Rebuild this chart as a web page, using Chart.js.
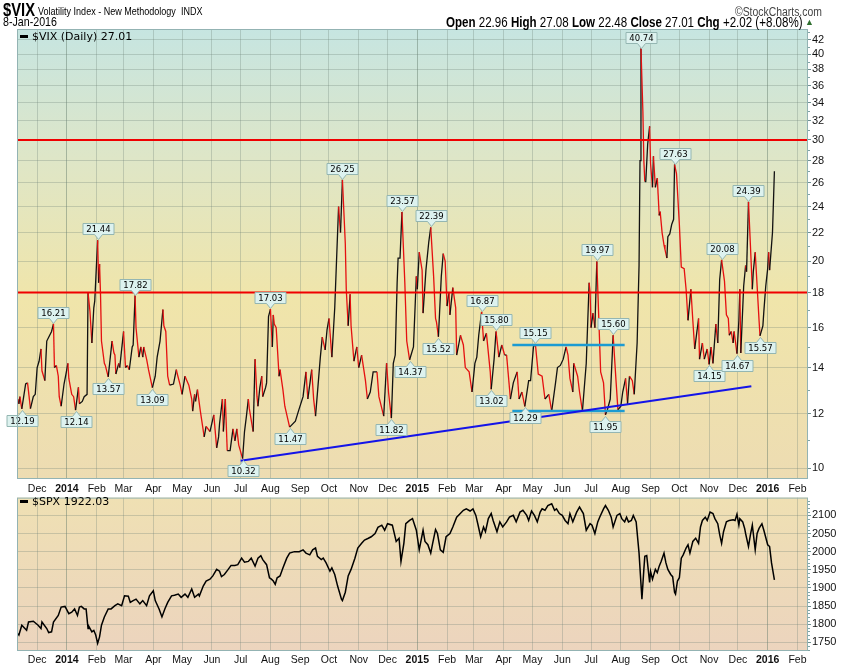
<!DOCTYPE html>
<html>
<head>
<meta charset="utf-8">
<script src="https://cdn.jsdelivr.net/npm/chart.js@4.4.0/dist/chart.umd.min.js"></script>
<style>
  body { margin: 0; background: #fff; width: 850px; height: 668px; position: relative; overflow: hidden; font-family: 'Liberation Sans', Arial, sans-serif; }
  .t { position: absolute; white-space: nowrap; color: #000; z-index: 2; }
  /* no narrow face installed, so squeeze the normal one */
  .n { transform: scaleX(0.82); transform-origin: 0 0; }
  .leg { position: absolute; z-index: 2; font: 11px 'DejaVu Sans', sans-serif; color: #000; white-space: nowrap; }
  .leg i { display: inline-block; width: 8px; height: 3px; background: #000; vertical-align: middle; margin-right: 4px; position: relative; top: -1px; }
  #top { position: absolute; left: 0; top: 0; }
  #bot { position: absolute; left: 0; top: 490px; }
</style>
</head>
<body>
<div class="t n" style="left:3px;top:0px;font-size:18px;font-weight:bold;line-height:20px;">$VIX</div>
<div class="t n" style="left:38px;top:5px;font-size:11px;line-height:13px;">Volatility Index - New Methodology&nbsp; INDX</div>
<div class="t n" style="left:3px;top:15px;font-size:13px;line-height:14px;">8-Jan-2016</div>
<div class="t n" style="left:735px;top:5px;font-size:12.7px;line-height:14px;color:#444;">&copy;StockCharts.com</div>
<div class="t n" style="left:446px;top:15px;font-size:14.1px;line-height:14px;"><b>Open</b> 22.96 <b>High</b> 27.08 <b>Low</b> 22.48 <b>Close</b> 27.01 <b>Chg</b> +2.02 (+8.08%)</div>
<div class="t" style="left:805px;top:16px;font-size:9px;line-height:12px;color:#2f6f2f;">&#9650;</div>
<div class="leg" style="left:20px;top:30px;"><i></i>$VIX (Daily) 27.01</div>
<div class="leg" style="left:20px;top:495px;"><i></i>$SPX 1922.03</div>

<canvas id="top" width="850" height="500"></canvas>
<canvas id="bot" width="850" height="178"></canvas>

<script>
// ---- data ----
const vixPoints = [
  ['2013-11-11', 12.6], ['2013-11-12', 12.4], ['2013-11-13', 12.7], ['2013-11-15', 12.19], ['2013-11-19', 13.25],
  ['2013-11-21', 13.3], ['2013-11-24', 12.2], ['2013-11-27', 12.7], ['2013-11-29', 12.8], ['2013-12-01', 14.0],
  ['2013-12-03', 14.3], ['2013-12-05', 14.9], ['2013-12-06', 13.85], ['2013-12-09', 13.4], ['2013-12-11', 15.3],
  ['2013-12-13', 15.5], ['2013-12-16', 15.8], ['2013-12-18', 16.21], ['2013-12-19', 14.0], ['2013-12-21', 14.1],
  ['2013-12-23', 13.6], ['2013-12-24', 12.7], ['2013-12-26', 12.3], ['2013-12-29', 13.25], ['2013-12-31', 13.7],
  ['2014-01-02', 14.2], ['2014-01-03', 13.5], ['2014-01-06', 12.8], ['2014-01-08', 12.7], ['2014-01-10', 12.14],
  ['2014-01-13', 13.1], ['2014-01-14', 12.4], ['2014-01-17', 12.5], ['2014-01-19', 12.7], ['2014-01-22', 12.8],
  ['2014-01-23', 18.0], ['2014-01-25', 16.9], ['2014-01-27', 15.2], ['2014-01-29', 17.1], ['2014-01-30', 17.5],
  ['2014-02-02', 21.44], ['2014-02-03', 18.6], ['2014-02-04', 19.8], ['2014-02-05', 17.9], ['2014-02-06', 15.3],
  ['2014-02-09', 14.2], ['2014-02-10', 14.1], ['2014-02-13', 13.57], ['2014-02-17', 15.3], ['2014-02-19', 14.7],
  ['2014-02-20', 14.6], ['2014-02-21', 13.7], ['2014-02-24', 14.2], ['2014-02-25', 14.0], ['2014-03-01', 15.8],
  ['2014-03-03', 14.0], ['2014-03-05', 14.1], ['2014-03-07', 13.9], ['2014-03-10', 15.0], ['2014-03-11', 15.1],
  ['2014-03-13', 17.82], ['2014-03-14', 16.0], ['2014-03-17', 14.5], ['2014-03-19', 15.0], ['2014-03-21', 14.5],
  ['2014-03-22', 15.0], ['2014-03-25', 14.4], ['2014-03-27', 13.9], ['2014-03-31', 13.09], ['2014-04-03', 13.6],
  ['2014-04-05', 14.5], ['2014-04-08', 15.3], ['2014-04-11', 17.0], ['2014-04-12', 16.1], ['2014-04-14', 15.8],
  ['2014-04-16', 13.6], ['2014-04-18', 13.2], ['2014-04-22', 13.25], ['2014-04-25', 13.9], ['2014-04-26', 13.7],
  ['2014-04-29', 13.2], ['2014-05-01', 12.8], ['2014-05-04', 13.6], ['2014-05-06', 13.4], ['2014-05-08', 13.2],
  ['2014-05-11', 12.6], ['2014-05-12', 12.1], ['2014-05-14', 12.8], ['2014-05-15', 12.5], ['2014-05-17', 13.0],
  ['2014-05-20', 12.1], ['2014-05-24', 11.1], ['2014-05-26', 11.5], ['2014-05-28', 11.4], ['2014-05-30', 11.3],
  ['2014-06-03', 11.95], ['2014-06-06', 10.7], ['2014-06-08', 11.1], ['2014-06-09', 11.6], ['2014-06-12', 12.6],
  ['2014-06-13', 11.3], ['2014-06-15', 12.6], ['2014-06-17', 10.6], ['2014-06-20', 10.6], ['2014-06-23', 11.4],
  ['2014-06-25', 10.95], ['2014-06-27', 11.4], ['2014-06-29', 10.8], ['2014-07-03', 10.32], ['2014-07-05', 11.3],
  ['2014-07-07', 11.9], ['2014-07-09', 12.6], ['2014-07-10', 12.2], ['2014-07-14', 11.3], ['2014-07-16', 14.4],
  ['2014-07-18', 12.7], ['2014-07-19', 12.3], ['2014-07-21', 13.1], ['2014-07-23', 13.6], ['2014-07-24', 12.7],
  ['2014-07-27', 13.1], ['2014-07-28', 13.3], ['2014-07-30', 16.6], ['2014-08-01', 17.03], ['2014-08-03', 15.0],
  ['2014-08-04', 16.7], ['2014-08-05', 16.2], ['2014-08-07', 16.0], ['2014-08-10', 13.6], ['2014-08-11', 13.9],
  ['2014-08-14', 13.0], ['2014-08-16', 12.3], ['2014-08-21', 11.47], ['2014-08-27', 11.7], ['2014-08-31', 12.2],
  ['2014-09-04', 12.7], ['2014-09-07', 13.8], ['2014-09-09', 12.6], ['2014-09-13', 13.9], ['2014-09-15', 12.6],
  ['2014-09-17', 11.9], ['2014-09-22', 14.5], ['2014-09-24', 15.5], ['2014-09-27', 14.85], ['2014-09-29', 15.9],
  ['2014-10-01', 16.5], ['2014-10-04', 14.5], ['2014-10-07', 17.1], ['2014-10-11', 24.0], ['2014-10-13', 22.0],
  ['2014-10-15', 26.25], ['2014-10-18', 21.2], ['2014-10-19', 18.2], ['2014-10-21', 16.1], ['2014-10-23', 17.9],
  ['2014-10-24', 16.1], ['2014-10-27', 14.3], ['2014-10-30', 15.0], ['2014-11-01', 14.0], ['2014-11-04', 14.6],
  ['2014-11-08', 13.4], ['2014-11-10', 12.6], ['2014-11-13', 12.9], ['2014-11-16', 13.8], ['2014-11-20', 13.8],
  ['2014-11-22', 12.7], ['2014-11-27', 11.9], ['2014-11-30', 14.2], ['2014-12-02', 12.9], ['2014-12-05', 11.82],
  ['2014-12-07', 14.2], ['2014-12-09', 14.6], ['2014-12-11', 18.6], ['2014-12-12', 20.2], ['2014-12-14', 20.2],
  ['2014-12-16', 23.57], ['2014-12-19', 18.6], ['2014-12-21', 15.3], ['2014-12-24', 14.37], ['2014-12-28', 15.0],
  ['2014-12-31', 19.0], ['2015-01-01', 18.2], ['2015-01-03', 20.6], ['2015-01-06', 19.4], ['2015-01-07', 16.8],
  ['2015-01-10', 19.4], ['2015-01-13', 21.35], ['2015-01-15', 22.39], ['2015-01-18', 19.0], ['2015-01-20', 16.5],
  ['2015-01-21', 16.3], ['2015-01-23', 15.52], ['2015-01-26', 19.0], ['2015-01-28', 20.5], ['2015-01-30', 20.0],
  ['2015-02-01', 17.2], ['2015-02-03', 18.0], ['2015-02-04', 16.7], ['2015-02-07', 18.3], ['2015-02-10', 17.1],
  ['2015-02-11', 14.6], ['2015-02-15', 15.6], ['2015-02-18', 15.1], ['2015-02-20', 14.0], ['2015-02-24', 13.8],
  ['2015-02-27', 12.9], ['2015-03-02', 14.2], ['2015-03-04', 14.5], ['2015-03-06', 15.6], ['2015-03-09', 16.87],
  ['2015-03-11', 15.3], ['2015-03-14', 15.7], ['2015-03-18', 13.8], ['2015-03-19', 13.02], ['2015-03-22', 14.4],
  ['2015-03-24', 15.80], ['2015-03-27', 14.5], ['2015-03-30', 15.1], ['2015-04-02', 14.6], ['2015-04-04', 14.6],
  ['2015-04-08', 12.6], ['2015-04-11', 13.3], ['2015-04-15', 13.8], ['2015-04-17', 12.6], ['2015-04-20', 12.9],
  ['2015-04-23', 12.29], ['2015-04-27', 13.4], ['2015-04-29', 13.4], ['2015-05-02', 15.0], ['2015-05-04', 15.15],
  ['2015-05-07', 13.7], ['2015-05-11', 13.6], ['2015-05-14', 12.6], ['2015-05-18', 12.8], ['2015-05-21', 12.1],
  ['2015-05-25', 13.3], ['2015-05-27', 14.0], ['2015-05-30', 14.1], ['2015-06-02', 14.4], ['2015-06-05', 15.0],
  ['2015-06-07', 14.6], ['2015-06-09', 13.5], ['2015-06-12', 12.9], ['2015-06-13', 14.2], ['2015-06-17', 13.6],
  ['2015-06-19', 12.9], ['2015-06-22', 12.1], ['2015-06-26', 14.2], ['2015-06-29', 18.6], ['2015-06-30', 18.0],
  ['2015-07-01', 16.0], ['2015-07-03', 16.8], ['2015-07-05', 16.0], ['2015-07-07', 19.97], ['2015-07-09', 16.6],
  ['2015-07-11', 13.8], ['2015-07-14', 13.3], ['2015-07-16', 11.95], ['2015-07-18', 12.15], ['2015-07-21', 12.6],
  ['2015-07-24', 15.60], ['2015-07-27', 13.4], ['2015-07-29', 12.15], ['2015-08-01', 12.3], ['2015-08-03', 12.9],
  ['2015-08-06', 13.5], ['2015-08-08', 12.4], ['2015-08-10', 13.6], ['2015-08-13', 13.4], ['2015-08-15', 12.8],
  ['2015-08-18', 15.2], ['2015-08-20', 19.7], ['2015-08-21', 28.0], ['2015-08-22', 40.74], ['2015-08-24', 33.0],
  ['2015-08-25', 28.0], ['2015-08-26', 26.1], ['2015-08-27', 26.1], ['2015-08-29', 29.6], ['2015-08-31', 31.4],
  ['2015-09-01', 27.7], ['2015-09-03', 25.6], ['2015-09-04', 28.4], ['2015-09-06', 25.6], ['2015-09-08', 26.4],
  ['2015-09-10', 23.3], ['2015-09-11', 23.6], ['2015-09-13', 22.0], ['2015-09-15', 21.1], ['2015-09-16', 20.8],
  ['2015-09-18', 20.2], ['2015-09-19', 21.7], ['2015-09-21', 21.9], ['2015-09-23', 22.6], ['2015-09-25', 23.0],
  ['2015-09-26', 27.63], ['2015-09-28', 26.8], ['2015-10-01', 22.6], ['2015-10-03', 19.6], ['2015-10-06', 19.5],
  ['2015-10-08', 18.2], ['2015-10-10', 16.4], ['2015-10-13', 18.2], ['2015-10-15', 16.4], ['2015-10-17', 14.9],
  ['2015-10-21', 16.5], ['2015-10-22', 14.4], ['2015-10-25', 15.2], ['2015-10-27', 14.4], ['2015-10-30', 14.9],
  ['2015-11-01', 14.15], ['2015-11-03', 15.0], ['2015-11-05', 14.2], ['2015-11-08', 16.2], ['2015-11-10', 15.2],
  ['2015-11-12', 18.8], ['2015-11-14', 20.08], ['2015-11-17', 18.7], ['2015-11-19', 16.7], ['2015-11-21', 16.5],
  ['2015-11-22', 15.6], ['2015-11-24', 15.8], ['2015-11-26', 15.2], ['2015-11-27', 15.8], ['2015-11-30', 14.67],
  ['2015-12-02', 16.4], ['2015-12-03', 18.2], ['2015-12-04', 14.7], ['2015-12-07', 18.4], ['2015-12-09', 19.7],
  ['2015-12-10', 19.3], ['2015-12-12', 24.39], ['2015-12-14', 21.1], ['2015-12-16', 18.2], ['2015-12-17', 19.3],
  ['2015-12-19', 20.6], ['2015-12-21', 18.4], ['2015-12-23', 16.4], ['2015-12-24', 15.57], ['2015-12-27', 16.1],
  ['2015-12-28', 16.9], ['2015-12-30', 18.4], ['2016-01-01', 19.5], ['2016-01-02', 20.6], ['2016-01-03', 19.4],
  ['2016-01-06', 22.0], ['2016-01-08', 27.01]
];

const spxPoints = [
  ['2013-11-11', 1774], ['2013-11-12', 1770], ['2013-11-15', 1797], ['2013-11-20', 1783], ['2013-11-22', 1806],
  ['2013-11-27', 1808], ['2013-12-02', 1797], ['2013-12-05', 1788], ['2013-12-06', 1806], ['2013-12-11', 1788],
  ['2013-12-13', 1777], ['2013-12-16', 1779], ['2013-12-18', 1806], ['2013-12-23', 1824], ['2013-12-26', 1847],
  ['2013-12-30', 1849], ['2014-01-03', 1829], ['2014-01-06', 1833], ['2014-01-09', 1842], ['2014-01-12', 1824],
  ['2014-01-14', 1847], ['2014-01-16', 1849], ['2014-01-19', 1842], ['2014-01-21', 1842], ['2014-01-23', 1788],
  ['2014-01-24', 1793], ['2014-01-27', 1779], ['2014-01-29', 1783], ['2014-01-31', 1770], ['2014-02-02', 1747],
  ['2014-02-04', 1765], ['2014-02-06', 1797], ['2014-02-09', 1820], ['2014-02-13', 1842], ['2014-02-16', 1842],
  ['2014-02-20', 1851], ['2014-02-23', 1856], ['2014-02-27', 1851], ['2014-03-02', 1878], ['2014-03-06', 1877],
  ['2014-03-08', 1860], ['2014-03-11', 1865], ['2014-03-14', 1869], ['2014-03-18', 1856], ['2014-03-21', 1865],
  ['2014-03-25', 1851], ['2014-03-28', 1878], ['2014-04-01', 1892], ['2014-04-03', 1865], ['2014-04-07', 1842],
  ['2014-04-10', 1820], ['2014-04-13', 1842], ['2014-04-16', 1860], ['2014-04-20', 1878], ['2014-04-23', 1880],
  ['2014-04-27', 1883], ['2014-04-30', 1874], ['2014-05-04', 1883], ['2014-05-07', 1874], ['2014-05-11', 1897],
  ['2014-05-14', 1874], ['2014-05-18', 1883], ['2014-05-19', 1878], ['2014-05-23', 1905], ['2014-05-26', 1919],
  ['2014-05-30', 1924], ['2014-06-02', 1933], ['2014-06-06', 1951], ['2014-06-09', 1946], ['2014-06-11', 1931],
  ['2014-06-14', 1937], ['2014-06-18', 1951], ['2014-06-21', 1962], ['2014-06-25', 1962], ['2014-06-28', 1964],
  ['2014-07-02', 1982], ['2014-07-05', 1971], ['2014-07-09', 1973], ['2014-07-12', 1982], ['2014-07-16', 1960],
  ['2014-07-19', 1982], ['2014-07-22', 1989], ['2014-07-24', 1978], ['2014-07-28', 1964], ['2014-07-31', 1928],
  ['2014-08-02', 1924], ['2014-08-04', 1919], ['2014-08-06', 1910], ['2014-08-08', 1928], ['2014-08-11', 1933],
  ['2014-08-14', 1955], ['2014-08-18', 1982], ['2014-08-21', 1996], ['2014-08-26', 2000], ['2014-08-31', 2000],
  ['2014-09-04', 2005], ['2014-09-07', 1996], ['2014-09-11', 1991], ['2014-09-14', 2005], ['2014-09-17', 2010],
  ['2014-09-19', 1987], ['2014-09-23', 1978], ['2014-09-25', 1982], ['2014-09-28', 1969], ['2014-10-02', 1946],
  ['2014-10-04', 1955], ['2014-10-07', 1937], ['2014-10-10', 1905], ['2014-10-14', 1869], ['2014-10-15', 1865],
  ['2014-10-18', 1888], ['2014-10-21', 1933], ['2014-10-24', 1951], ['2014-10-28', 1982], ['2014-10-31', 2010],
  ['2014-11-04', 2023], ['2014-11-07', 2032], ['2014-11-11', 2037], ['2014-11-14', 2041], ['2014-11-18', 2050],
  ['2014-11-21', 2067], ['2014-11-25', 2073], ['2014-11-28', 2059], ['2014-12-01', 2077], ['2014-12-06', 2073],
  ['2014-12-10', 2028], ['2014-12-13', 2037], ['2014-12-15', 1973], ['2014-12-18', 2023], ['2014-12-20', 2077],
  ['2014-12-24', 2086], ['2014-12-27', 2091], ['2014-12-31', 2059], ['2015-01-03', 2005], ['2015-01-07', 2059],
  ['2015-01-09', 2028], ['2015-01-12', 2019], ['2015-01-15', 1996], ['2015-01-17', 2023], ['2015-01-20', 2061],
  ['2015-01-22', 2050], ['2015-01-25', 2005], ['2015-01-28', 1998], ['2015-01-31', 2041], ['2015-02-04', 2050],
  ['2015-02-07', 2068], ['2015-02-11', 2095], ['2015-02-14', 2103], ['2015-02-18', 2114], ['2015-02-21', 2118],
  ['2015-02-25', 2112], ['2015-02-28', 2118], ['2015-03-03', 2100], ['2015-03-05', 2077], ['2015-03-08', 2041],
  ['2015-03-11', 2068], ['2015-03-13', 2055], ['2015-03-16', 2091], ['2015-03-19', 2105], ['2015-03-21', 2086],
  ['2015-03-25', 2055], ['2015-03-28', 2082], ['2015-03-31', 2068], ['2015-04-04', 2082], ['2015-04-07', 2095],
  ['2015-04-11', 2100], ['2015-04-14', 2082], ['2015-04-18', 2109], ['2015-04-21', 2114], ['2015-04-25', 2100],
  ['2015-04-27', 2086], ['2015-04-30', 2112], ['2015-05-03', 2100], ['2015-05-06', 2082], ['2015-05-09', 2109],
  ['2015-05-11', 2118], ['2015-05-14', 2114], ['2015-05-17', 2127], ['2015-05-21', 2132], ['2015-05-24', 2114],
  ['2015-05-26', 2118], ['2015-05-29', 2105], ['2015-06-01', 2100], ['2015-06-04', 2086], ['2015-06-07', 2077],
  ['2015-06-09', 2105], ['2015-06-12', 2082], ['2015-06-16', 2109], ['2015-06-19', 2123], ['2015-06-23', 2105],
  ['2015-06-26', 2059], ['2015-06-30', 2077], ['2015-07-02', 2073], ['2015-07-05', 2050], ['2015-07-08', 2082],
  ['2015-07-10', 2095], ['2015-07-14', 2118], ['2015-07-16', 2127], ['2015-07-19', 2114], ['2015-07-22', 2095],
  ['2015-07-24', 2068], ['2015-07-28', 2100], ['2015-07-31', 2105], ['2015-08-02', 2091], ['2015-08-05', 2082],
  ['2015-08-07', 2095], ['2015-08-09', 2082], ['2015-08-12', 2086], ['2015-08-14', 2100], ['2015-08-17', 2082],
  ['2015-08-20', 1996], ['2015-08-23', 1869], ['2015-08-25', 1951], ['2015-08-26', 1987], ['2015-08-28', 1989],
  ['2015-08-31', 1915], ['2015-09-01', 1945], ['2015-09-03', 1924], ['2015-09-06', 1951], ['2015-09-08', 1942],
  ['2015-09-10', 1960], ['2015-09-12', 1973], ['2015-09-15', 1996], ['2015-09-17', 1969], ['2015-09-19', 1951],
  ['2015-09-22', 1937], ['2015-09-24', 1931], ['2015-09-26', 1888], ['2015-09-27', 1883], ['2015-09-29', 1919],
  ['2015-10-01', 1928], ['2015-10-03', 1982], ['2015-10-05', 1991], ['2015-10-08', 2010], ['2015-10-10', 2019],
  ['2015-10-12', 1996], ['2015-10-15', 2028], ['2015-10-18', 2037], ['2015-10-21', 2023], ['2015-10-23', 2068],
  ['2015-10-25', 2086], ['2015-10-28', 2095], ['2015-10-30', 2086], ['2015-11-02', 2109], ['2015-11-05', 2105],
  ['2015-11-07', 2091], ['2015-11-10', 2077], ['2015-11-12', 2047], ['2015-11-14', 2023], ['2015-11-16', 2055],
  ['2015-11-19', 2082], ['2015-11-22', 2086], ['2015-11-26', 2088], ['2015-11-28', 2086], ['2015-11-30', 2103],
  ['2015-12-02', 2073], ['2015-12-03', 2091], ['2015-12-06', 2082], ['2015-12-08', 2064], ['2015-12-09', 2050],
  ['2015-12-12', 2014], ['2015-12-14', 2046], ['2015-12-16', 2073], ['2015-12-19', 2005], ['2015-12-21', 2050],
  ['2015-12-23', 2064], ['2015-12-26', 2077], ['2015-12-28', 2059], ['2016-01-01', 2019], ['2016-01-03', 2014],
  ['2016-01-05', 1969], ['2016-01-08', 1922.03]
];

// callout labels on the VIX line
const noteDates = ['2013-11-15', '2013-12-18', '2014-01-10', '2014-02-02', '2014-02-13', '2014-03-13', '2014-03-31',
  '2014-07-03', '2014-08-01', '2014-08-21', '2014-10-15', '2014-12-05', '2014-12-16', '2014-12-24', '2015-01-15',
  '2015-01-23', '2015-03-09', '2015-03-19', '2015-03-24', '2015-04-23', '2015-05-04', '2015-07-07', '2015-07-16',
  '2015-07-24', '2015-08-22', '2015-09-26', '2015-11-01', '2015-11-14', '2015-11-30', '2015-12-12', '2015-12-24'];
const noteValues = [12.19, 16.21, 12.14, 21.44, 13.57, 17.82, 13.09,
  10.32, 17.03, 11.47, 26.25, 11.82, 23.57, 14.37, 22.39,
  15.52, 16.87, 13.02, 15.80, 12.29, 15.15, 19.97, 11.95,
  15.60, 40.74, 27.63, 14.15, 20.08, 14.67, 24.39, 15.57];
const notePlaces = ['below', 'above', 'below', 'above', 'below', 'above', 'below',
  'below', 'above', 'below', 'above', 'below', 'above', 'below', 'above',
  'below', 'above', 'below', 'above', 'below', 'above', 'above', 'below',
  'above', 'above', 'above', 'below', 'above', 'below', 'above', 'below'];

// drawn lines
const levelValues = [30, 18];
const trendDates = ['2014-07-01', '2015-12-15'];
const trendValues = [10.25, 13.15];
const rangeDates = ['2015-04-10', '2015-08-05'];
const rangeTop = 15.1;
const rangeBottom = 12.1;

// axes
const vixTicks = [10, 12, 14, 16, 18, 20, 22, 24, 26, 28, 30, 32, 34, 36, 38, 40, 42];
const spxTicks = [1750, 1800, 1850, 1900, 1950, 2000, 2050, 2100];
const monthTicks = ['2013-12-01', '2014-01-01', '2014-02-01', '2014-03-01', '2014-04-01', '2014-05-01', '2014-06-01',
  '2014-07-01', '2014-08-01', '2014-09-01', '2014-10-01', '2014-11-01', '2014-12-01', '2015-01-01', '2015-02-01',
  '2015-03-01', '2015-04-01', '2015-05-01', '2015-06-01', '2015-07-01', '2015-08-01', '2015-09-01', '2015-10-01',
  '2015-11-01', '2015-12-01', '2016-01-01', '2016-02-01'];
const monthLabels = ['Dec', '2014', 'Feb', 'Mar', 'Apr', 'May', 'Jun', 'Jul', 'Aug', 'Sep', 'Oct', 'Nov', 'Dec',
  '2015', 'Feb', 'Mar', 'Apr', 'May', 'Jun', 'Jul', 'Aug', 'Sep', 'Oct', 'Nov', 'Dec', '2016', 'Feb'];

// ---- helpers ----
function dayNum(s) {
  const [y, m, d] = s.split('-').map(Number);
  return Date.UTC(y, m - 1, d) / 864e5;
}
const X_MIN = dayNum('2013-11-10');
const X_MAX = dayNum('2016-02-12');
const isYear = i => /^\d{4}$/.test(monthLabels[i]);
const FONT = "'Liberation Sans', Arial, sans-serif";

function xAxis(height, pad) {
  return {
    type: 'linear', min: X_MIN, max: X_MAX,
    afterBuildTicks: a => { a.ticks = monthTicks.map(d => ({ value: dayNum(d) })); },
    afterFit: a => { a.height = height; },
    grid: {
      drawTicks: false,
      color: c => (c.tick && isYear(c.index)) ? 'rgba(95,120,105,0.45)' : 'rgba(110,130,120,0.3)'
    },
    border: { display: false },
    ticks: {
      autoSkip: false, maxRotation: 0, minRotation: 0, padding: pad, color: '#111',
      font: c => ({ family: FONT, size: 10.5, weight: isYear(c.index) ? 'bold' : 'normal' }),
      callback: (v, i) => monthLabels[i]
    }
  };
}

function yGrid() {
  return { color: 'rgba(110,130,120,0.3)', drawTicks: true, tickLength: 3, tickColor: '#6f9090' };
}

// gradient behind the plot, border and minor ticks on top
const panelPlugin = {
  id: 'panel',
  beforeDraw(chart, args, opts) {
    const { ctx, chartArea: a } = chart;
    const g = ctx.createLinearGradient(0, a.top, 0, a.bottom);
    opts.stops.forEach(([p, c]) => g.addColorStop(p, c));
    ctx.save();
    ctx.fillStyle = g;
    ctx.fillRect(a.left, a.top, a.right - a.left, a.bottom - a.top);
    ctx.restore();
  },
  afterDraw(chart, args, opts) {
    const { ctx, chartArea: a } = chart;
    const y = chart.scales.y;
    ctx.save();
    ctx.strokeStyle = '#7fa3a3';
    ctx.lineWidth = 1;
    opts.minor.forEach(v => {
      const py = Math.round(y.getPixelForValue(v)) + 0.5;
      if (py < a.top || py > a.bottom) return;
      ctx.beginPath(); ctx.moveTo(a.right, py); ctx.lineTo(a.right + 2, py); ctx.stroke();
    });
    ctx.strokeStyle = '#93b3b3';
    ctx.strokeRect(a.left + 0.5, a.top + 0.5, a.right - a.left - 1, a.bottom - a.top - 1);
    ctx.restore();
  }
};

const calloutPlugin = {
  id: 'callouts',
  afterDatasetsDraw(chart) {
    const { ctx, scales: { x, y } } = chart;
    ctx.save();
    ctx.font = "8.5px 'DejaVu Sans', sans-serif";
    ctx.textAlign = 'center';
    ctx.textBaseline = 'middle';
    noteDates.forEach((d, i) => {
      const px = Math.round(x.getPixelForValue(dayNum(d))) + 0.5;
      const py = Math.round(y.getPixelForValue(noteValues[i])) + 0.5;
      const txt = noteValues[i].toFixed(2);
      const w = Math.ceil(ctx.measureText(txt).width) + 6;
      const h = 11, tri = 5;
      const s = notePlaces[i] === 'above' ? -1 : 1;
      const tip = py + s;
      const base = tip + s * tri;
      const far = base + s * h;
      ctx.beginPath();
      ctx.moveTo(px, tip);
      ctx.lineTo(px + 4, base);
      ctx.lineTo(px + w / 2, base);
      ctx.lineTo(px + w / 2, far);
      ctx.lineTo(px - w / 2, far);
      ctx.lineTo(px - w / 2, base);
      ctx.lineTo(px - 4, base);
      ctx.closePath();
      ctx.fillStyle = '#ddf2ef';
      ctx.fill();
      ctx.strokeStyle = '#94b6b2';
      ctx.lineWidth = 1;
      ctx.stroke();
      ctx.fillStyle = '#000';
      ctx.fillText(txt, px, (base + far) / 2 + 0.5);
    });
    ctx.restore();
  }
};

const straight = (dates, vals, color, width) => ({
  data: dates.map((d, i) => ({ x: dayNum(d), y: vals[i] })),
  borderColor: color, borderWidth: width, pointRadius: 0, order: 0, tension: 0
});

// ---- VIX panel ----
new Chart(document.getElementById('top'), {
  type: 'line',
  data: {
    datasets: [
      {
        data: vixPoints.map(([d, v]) => ({ x: dayNum(d), y: v })),
        borderWidth: 1.3, pointRadius: 0, tension: 0, order: 1,
        borderColor: '#111',
        segment: { borderColor: c => c.p1.parsed.y < c.p0.parsed.y ? '#e51010' : '#111' }
      },
      straight(['2013-11-10', '2016-02-12'], [levelValues[0], levelValues[0]], '#f00000', 2),
      straight(['2013-11-10', '2016-02-12'], [levelValues[1], levelValues[1]], '#f00000', 2),
      straight(trendDates, trendValues, '#1414e8', 2),
      straight(rangeDates, [rangeTop, rangeTop], '#1c9bd2', 2.5),
      straight(rangeDates, [rangeBottom, rangeBottom], '#1c9bd2', 2.5)
    ]
  },
  options: {
    responsive: false, animation: false,
    layout: { padding: { left: 17, top: 29, right: 0, bottom: 0 } },
    plugins: {
      legend: { display: false }, tooltip: { enabled: false },
      panel: {
        stops: [[0, '#c6e5e1'], [0.3, '#dfe6c6'], [0.6, '#f0e5aa'], [1, '#eddcb2']],
        minor: [11, 13, 15, 17, 19, 21, 23, 25, 27, 29, 31, 33, 35, 37, 39, 41, 43]
      }
    },
    scales: {
      x: xAxis(21, 4),
      y: {
        type: 'logarithmic', position: 'right', min: 9.64, max: 43.5,
        afterBuildTicks: a => { a.ticks = vixTicks.map(v => ({ value: v })); },
        afterFit: a => { a.width = 42; },
        grid: yGrid(),
        border: { display: false },
        ticks: { padding: 1, color: '#111', font: { family: FONT, size: 11 }, callback: v => String(v) }
      }
    }
  },
  plugins: [panelPlugin, calloutPlugin]
});

// ---- SPX panel ----
new Chart(document.getElementById('bot'), {
  type: 'line',
  data: {
    datasets: [{
      data: spxPoints.map(([d, v]) => ({ x: dayNum(d), y: v })),
      borderColor: '#000', borderWidth: 1.5, pointRadius: 0, tension: 0
    }]
  },
  options: {
    responsive: false, animation: false,
    layout: { padding: { left: 17, top: 5, right: 0, bottom: 0 } },
    plugins: {
      legend: { display: false }, tooltip: { enabled: false },
      panel: {
        stops: [[0, '#efe0b3'], [1, '#ecd4be']],
        minor: [1730, 1740, 1760, 1770, 1780, 1790, 1810, 1820, 1830, 1840, 1860, 1870, 1880, 1890, 1910, 1920,
          1930, 1940, 1960, 1970, 1980, 1990, 2010, 2020, 2030, 2040, 2060, 2070, 2080, 2090, 2110, 2120, 2130, 2140]
      }
    },
    scales: {
      x: xAxis(17, 3),
      y: {
        type: 'linear', position: 'right', min: 1726, max: 2149,
        afterBuildTicks: a => { a.ticks = spxTicks.map(v => ({ value: v })); },
        afterFit: a => { a.width = 42; },
        grid: yGrid(),
        border: { display: false },
        ticks: { padding: 1, color: '#111', font: { family: FONT, size: 11 }, callback: v => String(v) }
      }
    }
  },
  plugins: [panelPlugin]
});
</script>
</body>
</html>
